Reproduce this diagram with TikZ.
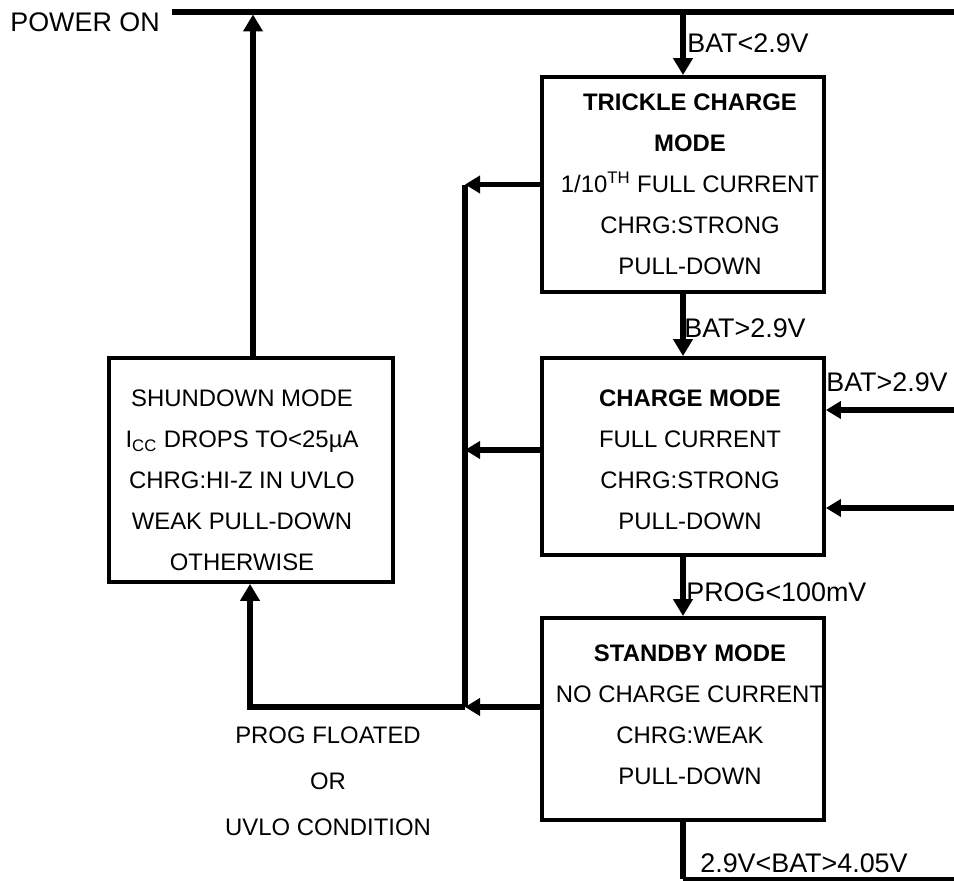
\documentclass[tikz,border=0pt]{standalone}
\usepackage{fontspec}
\setmainfont{Liberation Sans}
\usetikzlibrary{arrows.meta}
\begin{document}
\begin{tikzpicture}[x=0.02cm,y=-0.02cm,
  modebox/.style={draw, line width=2.2pt, inner sep=0pt, fill=none},
  rbox/.style={modebox, minimum width=5.64cm},
  boxtext/.style={align=center, inner sep=0pt, font=\fontsize{13.6}{23.3}\selectfont},
  lbl/.style={anchor=west, inner sep=0pt, font=\fontsize{15.3}{26}\selectfont},
  wire/.style={line width=3pt},
  flow/.style={line width=3pt, -{Triangle[length=0.34cm,width=0.38cm]}},
  harrow/.style={line width=3pt, -{Triangle[length=0.30cm,width=0.34cm]}}
]
\useasboundingbox (0,0) rectangle (954,881);

% boxes
\node[rbox, minimum height=4.30cm] (trickle) at (683,184.5) {};
\node[rbox, minimum height=3.94cm] (charge) at (683,456.5) {};
\node[rbox, minimum height=4.04cm] (standby) at (683,719) {};
\node[modebox, minimum width=5.68cm, minimum height=4.48cm] (shutdown) at (251,470) {};

% box texts
\node[boxtext] (trickleT) at (690,184.5) {\textbf{TRICKLE CHARGE}\\\textbf{MODE}\\1/10\textsuperscript{TH} FULL CURRENT\\CHRG:STRONG\\PULL-DOWN};
\node[boxtext] (chargeT) at (690,459.5) {\textbf{CHARGE MODE}\\FULL CURRENT\\CHRG:STRONG\\PULL-DOWN};
\node[boxtext] (standbyT) at (690,714.5) {\textbf{STANDBY MODE}\\NO CHARGE CURRENT\\CHRG:WEAK\\PULL-DOWN};
\node[boxtext] (shutdownT) at (242,480.5) {SHUNDOWN MODE\\I\textsubscript{CC} DROPS TO<25µA\\CHRG:HI-Z IN UVLO\\WEAK PULL-DOWN\\OTHERWISE};
\node[boxtext, font=\fontsize{13.6}{26.3}\selectfont] (progT) at (328,781) {PROG FLOATED\\OR\\UVLO CONDITION};

% labels
\node[lbl] (pwr) at (10,22) {POWER ON};
\node[lbl] (l1) at (687,43) {BAT<2.9V};
\node[lbl] (l2) at (684,328) {BAT>2.9V};
\node[lbl] (l3) at (826,382) {BAT>2.9V};
\node[lbl] (l4) at (686,592) {PROG<100mV};
\node[lbl] (l5) at (700,863) {2.9V<BAT>4.05V};

% coordinates
\coordinate (pwrL) at (172,12);
\coordinate (pwrR) at (954,12);
\coordinate (busT) at (465,185);
\coordinate (busB) at (465,707);
\coordinate (cw) at (541,450);
\coordinate (sw) at (541,707);
\coordinate (loopC) at (250,707);
\coordinate (in1) at (954,410);
\coordinate (in2) at (954,508);
\coordinate (bend) at (683,879);
\coordinate (endR) at (954,879);

% connectors
\draw[wire] (pwrL) -- (pwrR);
\draw[flow] (trickle.north |- pwrL) -- (trickle.north);
\draw[flow] (shutdown.north -| 253,0) -- (253,14.5);
\draw[flow] (trickle.south) -- (charge.north);
\draw[flow] (charge.south) -- (standby.north);
\draw[line width=3.2pt] (standby.south) -- (bend);
\draw[line width=1.8pt] (bend) -- (endR);
\draw[line width=3.4pt] (busT) -- (busB);
\draw[harrow] (trickle.west) -- (trickle.west -| busT);
\draw[harrow] (cw) -- (cw -| busT);
\draw[harrow] (sw) -- (sw -| busT);
\draw[flow] (busB) -- (loopC) -- (loopC |- shutdown.south);
\draw[harrow] (in1) -- (in1 -| charge.east);
\draw[harrow] (in2) -- (in2 -| charge.east);
\end{tikzpicture}
\end{document}
